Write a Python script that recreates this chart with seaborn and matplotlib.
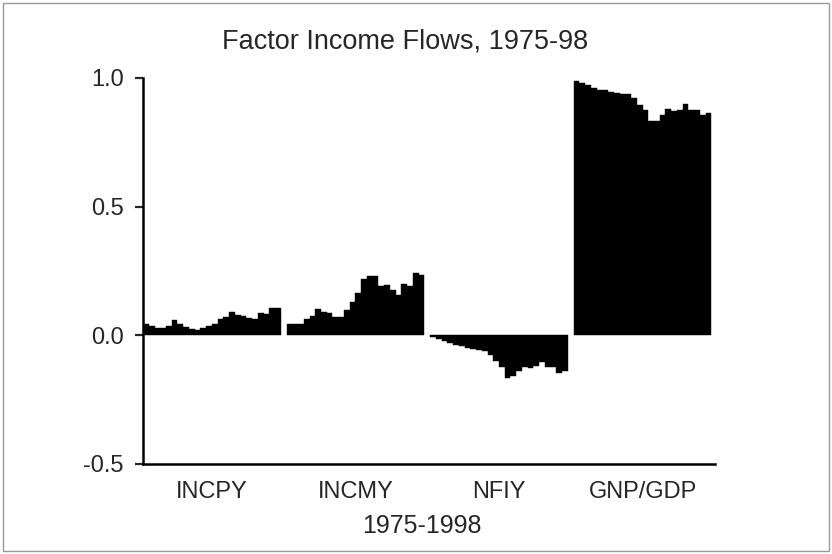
import numpy as np
import pandas as pd
import seaborn as sns
import matplotlib.pyplot as plt
from matplotlib.patches import Rectangle

years = list(range(1975, 1999))
series_names = ['INCPY', 'INCMY', 'NFIY', 'GNP/GDP']

incpy = [0.043, 0.036, 0.030, 0.028, 0.035, 0.059, 0.044, 0.032, 0.023, 0.022,
         0.028, 0.037, 0.044, 0.062, 0.071, 0.092, 0.080, 0.076, 0.067, 0.065,
         0.085, 0.081, 0.107, 0.107]
incmy = [0.045, 0.045, 0.045, 0.063, 0.074, 0.102, 0.090, 0.087, 0.071, 0.071,
         0.097, 0.130, 0.164, 0.218, 0.230, 0.229, 0.190, 0.196, 0.177, 0.155,
         0.198, 0.193, 0.243, 0.235]
nfiy = [-0.006, -0.014, -0.022, -0.030, -0.036, -0.043, -0.048, -0.053, -0.056, -0.061,
        -0.075, -0.099, -0.123, -0.164, -0.159, -0.140, -0.123, -0.127, -0.119, -0.103,
        -0.123, -0.123, -0.145, -0.138]
gnp_gdp = [0.988, 0.981, 0.973, 0.960, 0.955, 0.952, 0.947, 0.942, 0.939, 0.939,
           0.921, 0.895, 0.875, 0.833, 0.831, 0.855, 0.881, 0.872, 0.877, 0.897,
           0.877, 0.877, 0.857, 0.862]

yticks = [-0.5, 0.0, 0.5, 1.0]

# one slot per year, one empty slot between the groups
frames = []
for g, (name, vals) in enumerate(zip(series_names, [incpy, incmy, nfiy, gnp_gdp])):
    frames.append(pd.DataFrame({
        'pos': [g * (len(years) + 1) + i for i in range(len(years))],
        'year': years,
        'value': vals,
        'series': name,
    }))
df = pd.concat(frames, ignore_index=True)
centers = df.groupby('series', sort=False)['pos'].mean()

sns.set_style('ticks')
plt.rcParams['font.family'] = ['Liberation Sans', 'DejaVu Sans']

fig = plt.figure(figsize=(8.32, 5.54), dpi=100)
ax = fig.add_axes([0.1719, 0.1625, 0.688, 0.6968])

sns.barplot(data=df, x='pos', y='value', native_scale=True, color='black',
            width=1.0, errorbar=None, saturation=1, ax=ax,
            edgecolor='black', linewidth=0.3)

ax.set_xlim(-0.5, 99.2)
ax.set_ylim(-0.5, 1.0)
ax.set_yticks(yticks)
ax.set_yticklabels([f'{t:.1f}' for t in yticks])
ax.set_xticks(centers.values)
ax.set_xticklabels(centers.index)
ax.tick_params(axis='x', length=0, pad=12, labelsize=17)
ax.tick_params(axis='y', length=6, width=1.6, pad=8, labelsize=17)

sns.despine(ax=ax)
for side in ['left', 'bottom']:
    ax.spines[side].set_linewidth(1.8)
    ax.spines[side].set_color('black')

ax.set_xlabel('1975-1998', fontsize=18, labelpad=8, x=0.487)
ax.set_ylabel('')
ax.set_title('Factor Income Flows, 1975-98', fontsize=19.5, pad=21, x=0.458)

fig.patches.append(Rectangle((0.004, 0.005), 0.992, 0.99, transform=fig.transFigure,
                             fill=False, edgecolor='#999999', linewidth=1))

fig.savefig('out.png', dpi=100)
